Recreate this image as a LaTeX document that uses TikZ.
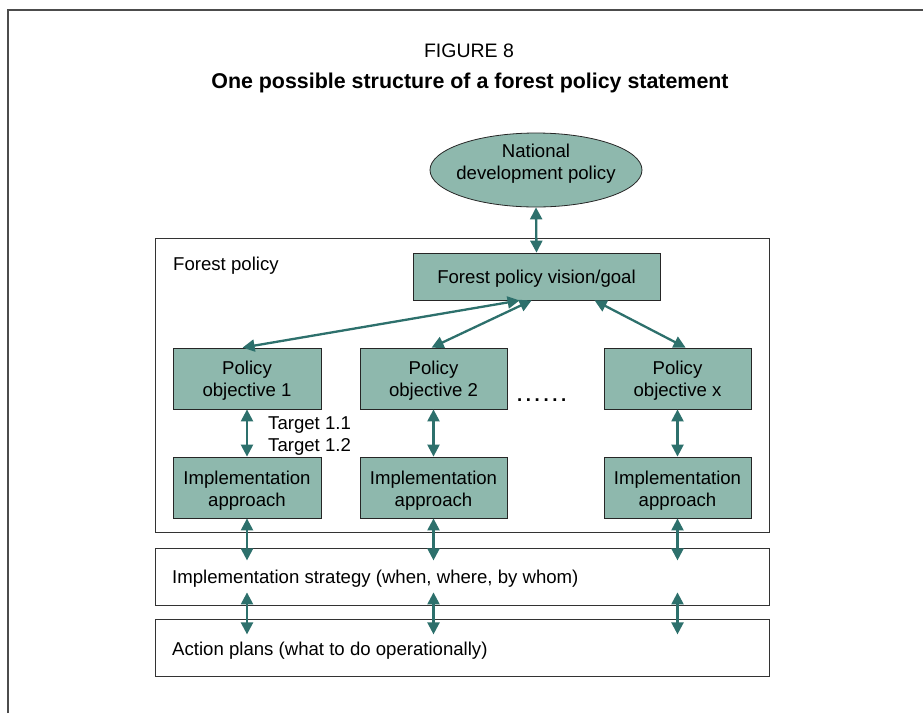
\documentclass[tikz,border=0pt]{standalone}
\usepackage{fontspec}
\setmainfont{Liberation Sans}
\usetikzlibrary{arrows.meta,shapes.geometric,calc}
\definecolor{boxfill}{RGB}{142,184,173}
\definecolor{arr}{RGB}{45,112,108}
\begin{document}
\begin{tikzpicture}[x=1pt,y=-1pt,
  font=\fontsize{18.6}{22}\selectfont,
  tealbox/.style={draw=black!85, fill=boxfill, line width=0.8pt, inner sep=0pt},
  boxtext/.style={inner sep=0pt, align=center},
  panel/.style={draw=black!80, line width=0.8pt, inner sep=0pt},
  link/.style={draw=arr, line width=2.3pt, {Triangle[width=12pt,length=12pt]}-{Triangle[width=12pt,length=12pt]}},
  plain/.style={inner sep=0pt, align=left}]
\useasboundingbox (0,0) rectangle (923,713);
% outer frame
\draw[line width=1.4pt, black!70] (8,713) -- (8,10) -- (923,10);
% titles
\node[inner sep=0pt] (fig) at (469,50.5) {\fontsize{19.5}{22}\selectfont FIGURE 8};
\node[inner sep=0pt] (title) at (470,82.5) {\fontsize{21.4}{24}\selectfont\bfseries One possible structure of a forest policy statement};
% panels
\node[panel, minimum width=614pt, minimum height=294pt] (fp) at (462,385) {};
\node[panel, minimum width=614pt, minimum height=57pt] (strat) at (462,576.5) {};
\node[panel, minimum width=614pt, minimum height=57pt] (act) at (462,647.5) {};
\node[plain, anchor=west] (fpl) at (173,266) {Forest policy};
\node[plain, anchor=west] (stratl) at (172,579) {Implementation strategy (when, where, by whom)};
\node[plain, anchor=west] (actl) at (172,650.5) {Action plans (what to do operationally)};
% ellipse
\node[ellipse, draw=black!85, fill=boxfill, line width=0.8pt, minimum width=212pt, minimum height=74pt, inner sep=0pt] (natl) at (536,170) {};
\node[boxtext] (natlt) at ([yshift=6pt]natl.center) {National\\development policy};
% teal boxes
\node[tealbox, minimum width=247pt, minimum height=47pt] (vision) at (536.5,276.5) {};
\node[tealbox, minimum width=148pt, minimum height=61pt] (obj1) at (247,378.5) {};
\node[tealbox, minimum width=147pt, minimum height=61pt] (obj2) at (433.5,378.5) {};
\node[tealbox, minimum width=147pt, minimum height=61pt] (objx) at (677.5,378.5) {};
\node[tealbox, minimum width=148pt, minimum height=61pt] (imp1) at (247,487.5) {};
\node[tealbox, minimum width=147pt, minimum height=61pt] (imp2) at (433.5,487.5) {};
\node[tealbox, minimum width=147pt, minimum height=61pt] (impx) at (677.5,487.5) {};
\node[boxtext] (visiont) at ([yshift=-2pt]vision.center) {Forest policy vision/goal};
\node[boxtext] (obj1t) at ([yshift=-2.5pt]obj1.center) {Policy\\objective 1};
\node[boxtext] (obj2t) at ([yshift=-2.5pt]obj2.center) {Policy\\objective 2};
\node[boxtext] (objxt) at ([yshift=-2.5pt]objx.center) {Policy\\objective x};
\node[boxtext] (imp1t) at ([yshift=-3pt]imp1.center) {Implementation\\approach};
\node[boxtext] (imp2t) at ([yshift=-3pt]imp2.center) {Implementation\\approach};
\node[boxtext] (impxt) at ([yshift=-3pt]impx.center) {Implementation\\approach};
% labels
\node[plain, anchor=west] (tgt) at (268,436) {Target 1.1\\Target 1.2};
\node[inner sep=0pt, anchor=base west] (dots) at (517,401) {\bfseries .\hspace{3.6pt}.\hspace{3.6pt}.\hspace{3.6pt}.\hspace{3.6pt}.\hspace{3.6pt}.};
% connectors
\draw[link] (natl.south) -- (vision.north);
\coordinate (v1) at ($(vision.south west)+(107,0)$);
\coordinate (v2) at ($(vision.south west)+(119,0)$);
\coordinate (v3) at ($(vision.south west)+(182,0)$);
\coordinate (o1) at ($(obj1.north west)+(70,0)$);
\coordinate (o2) at ($(obj2.north west)+(72,0)$);
\coordinate (ox) at ($(objx.north west)+(82,0)$);
\draw[link] (v1) -- (o1);
\draw[link] (v2) -- (o2);
\draw[link] (v3) -- (ox);
\draw[link] (obj1.south) -- (imp1.north);
\draw[link] (obj2.south) -- (imp2.north);
\draw[link] (objx.south) -- (impx.north);
\foreach \n in {1,2,x}{
  \coordinate (s\n) at ($(imp\n.south)+(0,42)$);
  \coordinate (b\n) at ($(imp\n.south)+(0,74)$);
  \coordinate (e\n) at ($(imp\n.south)+(0,116)$);
  \draw[link] (imp\n.south) -- (s\n);
  \draw[link] (b\n) -- (e\n);
}
\end{tikzpicture}
\end{document}
